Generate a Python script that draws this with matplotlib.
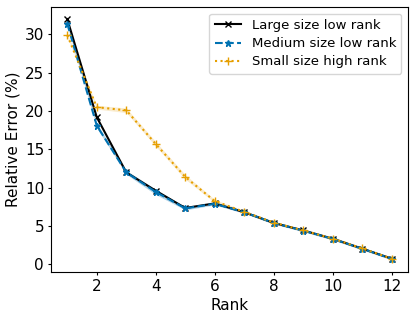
import numpy as np
import matplotlib
matplotlib.use("Agg")
import matplotlib.pyplot as plt

rank = np.arange(1, 13)

large_err = np.array([32.0, 19.2, 12.0, 9.6, 7.35, 7.95, 6.8, 5.4, 4.42, 3.34, 2.05, 0.74])
medium_err = np.array([31.4, 18.1, 12.0, 9.45, 7.3, 7.9, 6.8, 5.4, 4.4, 3.32, 2.03, 0.72])
medium_std = np.array([0.3, 0.3, 0.25, 0.35, 0.2, 0.15, 0.15, 0.15, 0.15, 0.15, 0.15, 0.15])
small_err = np.array([29.9, 20.5, 20.1, 15.7, 11.4, 8.25, 6.85, 5.45, 4.42, 3.36, 2.07, 0.74])
small_std = np.array([0.2, 0.25, 0.3, 0.3, 0.3, 0.2, 0.15, 0.1, 0.1, 0.1, 0.1, 0.1])

fig = plt.figure(figsize=(4.15, 3.2), dpi=100)
ax = fig.add_subplot(111)

ax.plot(rank, large_err, 'x-', color='black', markersize=5, linewidth=1.5,
        label='Large size low rank')
ax.plot(rank, medium_err, '*--', color='#0072B2', markersize=5, linewidth=1.5,
        label='Medium size low rank')
ax.fill_between(rank, medium_err - medium_std, medium_err + medium_std,
                color='#0072B2', alpha=0.3, linewidth=0)
ax.plot(rank, small_err, '+:', color='#E69F00', markersize=6, linewidth=1.5,
        label='Small size high rank')
ax.fill_between(rank, small_err - small_std, small_err + small_std,
                color='#E69F00', alpha=0.2, linewidth=0)

ax.set_xticks([2, 4, 6, 8, 10, 12])
ax.set_yticks([0, 5, 10, 15, 20, 25, 30])
ax.tick_params(labelsize=11, length=2.5, pad=2.5)
ax.set_xlabel('Rank', fontsize=11, labelpad=3)
ax.set_ylabel('Relative Error (%)', fontsize=11, labelpad=3)
ax.legend(fontsize=9.5, labelspacing=0.4, handlelength=2.0)

fig.subplots_adjust(left=0.123, right=0.983, top=0.978, bottom=0.15)
fig.savefig('out.png', dpi=100)
